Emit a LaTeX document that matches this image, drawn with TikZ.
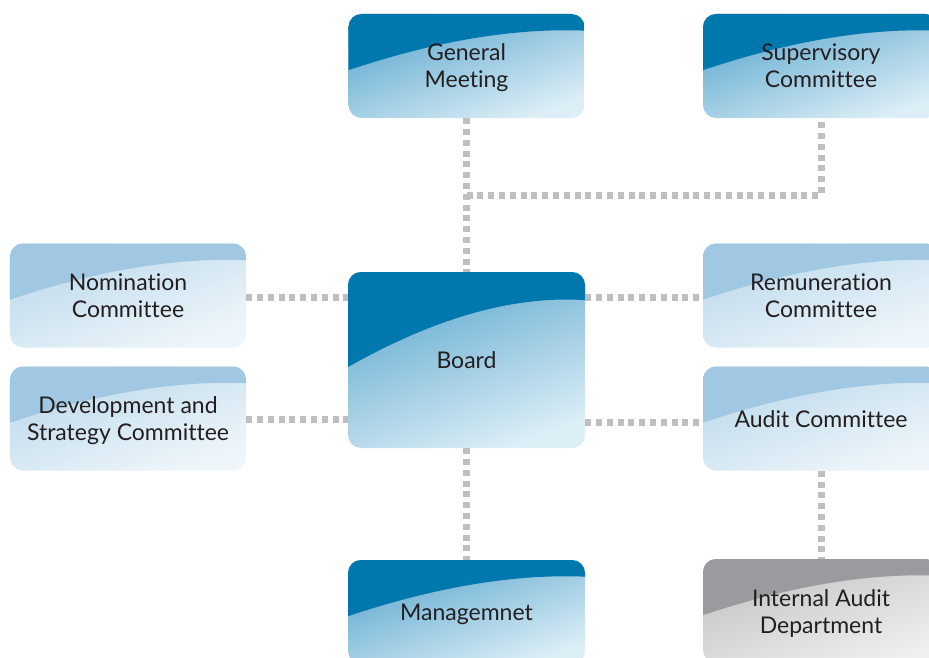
\documentclass[tikz,border=0pt]{standalone}
\usepackage{fontspec}
\setmainfont{Lato}[Ligatures=NoCommon]
\usetikzlibrary{calc}
\definecolor{txt}{HTML}{231F20}
\definecolor{bdark}{HTML}{0077AD}
\definecolor{bmid}{HTML}{5DA8CF}
\definecolor{blite}{HTML}{DCEEF6}
\definecolor{ldark}{HTML}{A0C8E2}
\definecolor{lmid}{HTML}{BBD9EB}
\definecolor{llite}{HTML}{EFF6FB}
\definecolor{gdark}{HTML}{9A9B9E}
\definecolor{gmid}{HTML}{C3C3C4}
\definecolor{glite}{HTML}{EFEFEF}
\definecolor{connc}{HTML}{BEBFC1}
\newcommand\lst{\rule[-5bp]{0pt}{27bp}}
\tikzset{
  orgbox/.style n args={3}{rectangle, rounded corners=13bp, fill=white, inner sep=0pt,
    align=center, text=txt, font=\fontsize{23bp}{27bp}\selectfont,
    minimum width=236bp, minimum height=104bp,
    path picture={
      \path[sharp corners, top color=#2, bottom color=#3, shading angle=20]
        (path picture bounding box.north west) rectangle (path picture bounding box.south east);
      \fill[#1, sharp corners] let \p1=(path picture bounding box.north west),
        \p2=(path picture bounding box.south east) in
        (\x1,\y1) -- (\x2,\y1) -- (\x2,{\y1+0.16*(\y2-\y1)})
        .. controls ({\x1+0.7*(\x2-\x1)},{\y1+0.133*(\y2-\y1)})
        and ({\x1+0.367*(\x2-\x1)},{\y1+0.26*(\y2-\y1)})
        .. (\x1,{\y1+0.54*(\y2-\y1)}) -- cycle;
    }},
  bluebox/.style={orgbox={bdark}{bmid}{blite}},
  litebox/.style={orgbox={ldark}{lmid}{llite}},
  graybox/.style={orgbox={gdark}{gmid}{glite}},
  conn/.style={draw=connc, line width=7bp, dash pattern=on 6bp off 4.8bp}
}
\begin{document}
\begin{tikzpicture}[x=1bp,y=-1bp]
\useasboundingbox (0,0) rectangle (929,658);
\clip (0,0) rectangle (929,658);
\node[bluebox] (gm) at (466.5,66) {\lst General\\\lst Meeting};
\node[bluebox] (sup) at (821,66) {\lst Supervisory\\\lst Committee};
\node[litebox] (nom) at (128,295.5) {\lst Nomination\\\lst Committee};
\node[litebox] (dev) at (128,418.5) {\lst Development and\\\lst Strategy Committee};
\node[bluebox, minimum width=237bp, minimum height=176bp] (board) at (466.5,360) {\lst Board};
\node[litebox] (rem) at (821,295.5) {\lst Remuneration\\\lst Committee};
\node[litebox] (aud) at (821,418.5) {\lst Audit Committee};
\node[bluebox, minimum width=237bp] (man) at (466.5,612) {\lst Managemnet};
\node[graybox] (ia) at (821,611) {\lst Internal Audit\\\lst Department};
\coordinate (j) at (466.5,195);
\draw[conn] (gm.south) -- (board.north);
\draw[conn] (j) -| (sup.south);
\draw[conn] (nom.east |- 0,297) -- (board.west |- 0,297);
\draw[conn] (dev.east |- 0,419) -- (board.west |- 0,419);
\draw[conn] (board.east |- 0,297) -- (rem.west |- 0,297);
\draw[conn] (board.east |- 0,422) -- (aud.west |- 0,422);
\draw[conn] (board.south) -- (man.north);
\draw[conn] (aud.south) -- (ia.north);
\end{tikzpicture}
\end{document}
